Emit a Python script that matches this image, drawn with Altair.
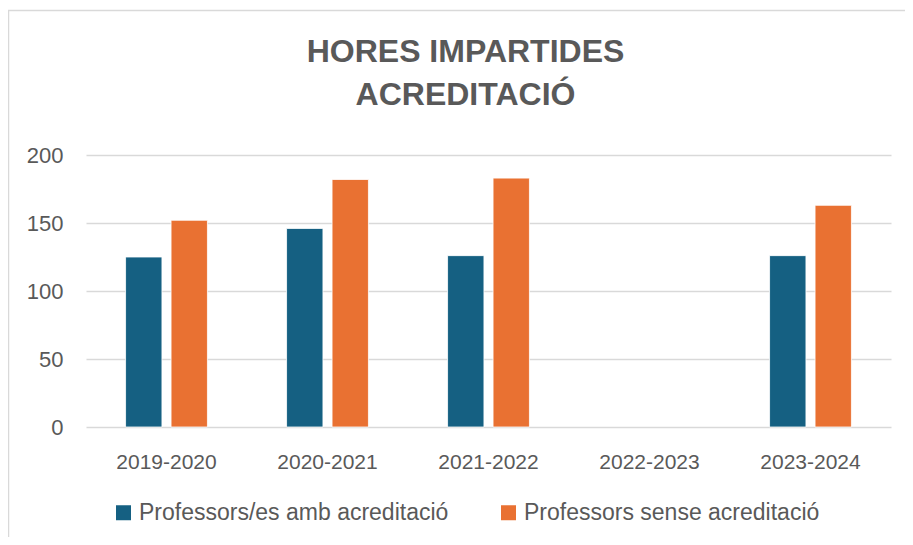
import altair as alt
import pandas as pd

years = ["2019-2020", "2020-2021", "2021-2022", "2022-2023", "2023-2024"]
series = ["Professors/es amb acreditació", "Professors sense acreditació"]
amb = [125, 146, 126, None, 126]
sense = [152, 182, 183, None, 163]
y_ticks = [0, 50, 100, 150, 200]
colors = ["#156082", "#E97132"]

rows = []
for yr, a, s in zip(years, amb, sense):
    if a is not None:
        rows.append({"curs": yr, "serie": series[0], "hores": a})
    if s is not None:
        rows.append({"curs": yr, "serie": series[1], "hores": s})
df = pd.DataFrame(rows)

FONT = "Liberation Sans"
GRAY = "#595959"

bars = alt.Chart(df).mark_bar(stroke="white", strokeWidth=0.8).encode(
    x=alt.X("curs:N", sort=years,
            scale=alt.Scale(domain=years, paddingInner=0, paddingOuter=0),
            axis=alt.Axis(title=None, labelAngle=0, ticks=False, domain=False,
                          labelPadding=24, labelFontSize=21, labelColor=GRAY,
                          labelFont=FONT, grid=False)),
    xOffset=alt.XOffset("serie:N",
                        scale=alt.Scale(domain=series, paddingInner=0.2, paddingOuter=0.87)),
    y=alt.Y("hores:Q", scale=alt.Scale(domain=[0, 200]),
            axis=alt.Axis(values=y_ticks, title=None, ticks=False, domain=False,
                          labelPadding=23, labelFontSize=22, labelColor=GRAY,
                          labelFont=FONT, gridColor="#d9d9d9", gridWidth=1.3)),
    color=alt.Color("serie:N",
                    scale=alt.Scale(domain=series, range=colors),
                    legend=alt.Legend(title=None, orient="none", legendX=26, legendY=346,
                                      direction="horizontal", symbolType="square",
                                      symbolSize=225, symbolStrokeWidth=0,
                                      labelFontSize=23, labelColor=GRAY, labelFont=FONT,
                                      labelOffset=4, columnPadding=48, labelLimit=400)),
)

frame_data = alt.Data(values=[{}])
left_line = alt.Chart(frame_data).mark_rule(color="#d9d9d9", strokeWidth=1.5).encode(
    x=alt.value(-77.5), y=alt.value(-145), y2=alt.value(400))
top_line = alt.Chart(frame_data).mark_rule(color="#d9d9d9", strokeWidth=1.5).encode(
    y=alt.value(-144.5), x=alt.value(-78), x2=alt.value(840))

chart = alt.layer(left_line, top_line, bars).properties(
    width=805, height=272,
    title=alt.TitleParams(text=["HORES IMPARTIDES", "ACREDITACIÓ"], fontSize=32,
                          fontWeight="bold", color=GRAY, font=FONT, anchor="middle",
                          frame="group", dx=-23, dy=155, offset=52, lineHeight=43),
    autosize=alt.AutoSizeParams(type="none"),
    padding={"left": 78, "top": 147, "right": 14, "bottom": 110},
).configure_view(stroke=None)

chart.save("out.html", embed_options={"renderer": "svg", "actions": False})
